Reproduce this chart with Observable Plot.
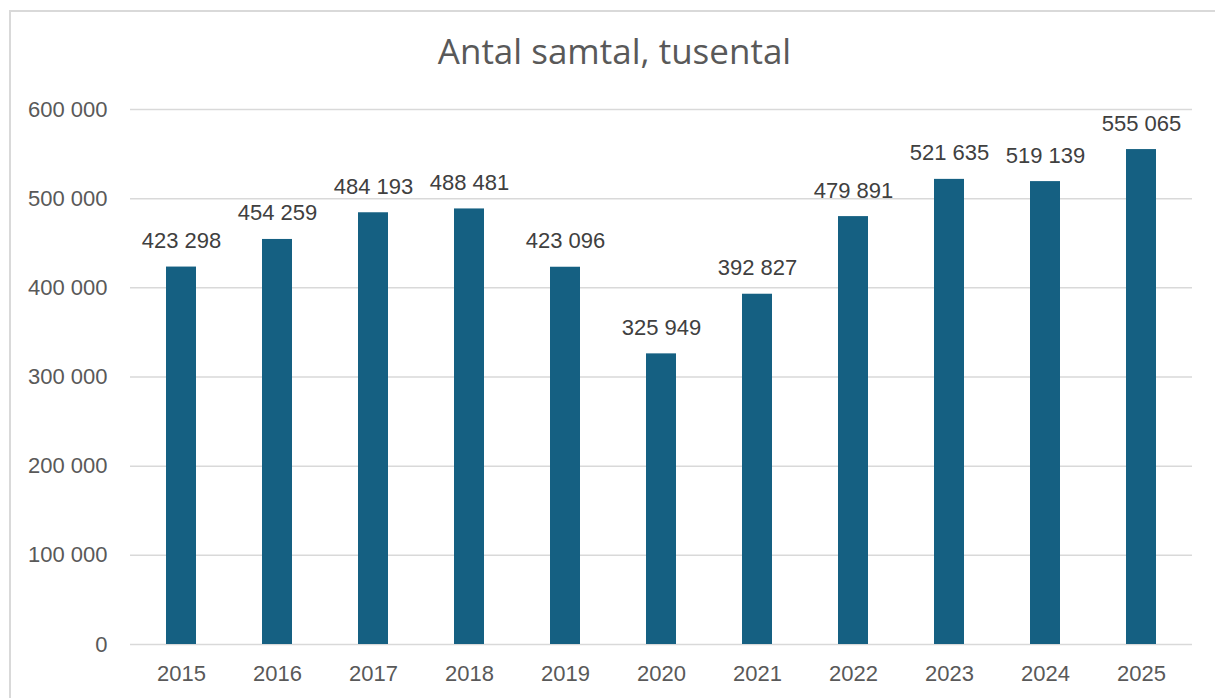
<!DOCTYPE html>
<html>
<head>
<meta charset="utf-8">
<script src="https://cdn.jsdelivr.net/npm/d3@7"></script>
<script src="https://cdn.jsdelivr.net/npm/@observablehq/plot@0.6"></script>
<style>
  body { margin: 0; background: #fff; }
  #frame { position: absolute; left: 9px; top: 10px; width: 1210px; height: 700px; border: 2px solid #d9d9d9; box-sizing: border-box; }
  #title { position: absolute; left: 7px; top: 0; width: 1215px; height: 80px; text-align: center; font-family: "Open Sans", sans-serif; font-size: 35px; color: #595959; line-height: 1; }
  #title span { position: absolute; left: 0; right: 0; top: 33px; }
  #chart { position: absolute; left: 0; top: 80px; }
</style>
</head>
<body>
<div id="frame"></div>
<div id="title"><span>Antal samtal, tusental</span></div>
<div id="chart"></div>
<script>
const years = ["2015","2016","2017","2018","2019","2020","2021","2022","2023","2024","2025"];
const values = [423298, 454259, 484193, 488481, 423096, 325949, 392827, 479891, 521635, 519139, 555065];
const yTicks = [0, 100000, 200000, 300000, 400000, 500000, 600000];

const data = years.map((y, i) => ({year: y, value: values[i]}));
const fmt = v => d3.format(",")(v).replace(/,/g, " ");

const chart = Plot.plot({
  width: 1215,
  height: 618,
  marginTop: 29,
  marginBottom: 54,
  marginLeft: 130,
  marginRight: 23,
  style: {fontFamily: "'Liberation Sans', Arial, sans-serif", fontSize: "22px", color: "#595959", background: "transparent"},
  x: {domain: years, paddingInner: 0.69, paddingOuter: 0.345, label: null},
  y: {domain: [0, 600000], label: null},
  marks: [
    Plot.gridY(yTicks, {stroke: "#d9d9d9", strokeOpacity: 1, strokeWidth: 1.5}),
    Plot.axisY(yTicks, {tickSize: 0, tickPadding: 23, tickFormat: fmt, fill: "#595959", fontSize: 22}),
    Plot.axisX({tickSize: 0, tickPadding: 21, fill: "#595959", fontSize: 22}),
    Plot.barY(data, {x: "year", y: "value", fill: "#156082"}),
    Plot.text(data, {x: "year", y: "value", text: d => fmt(d.value), dy: -26, fill: "#404040", fontSize: 22})
  ]
});
document.getElementById("chart").appendChild(chart);
</script>
</body>
</html>
